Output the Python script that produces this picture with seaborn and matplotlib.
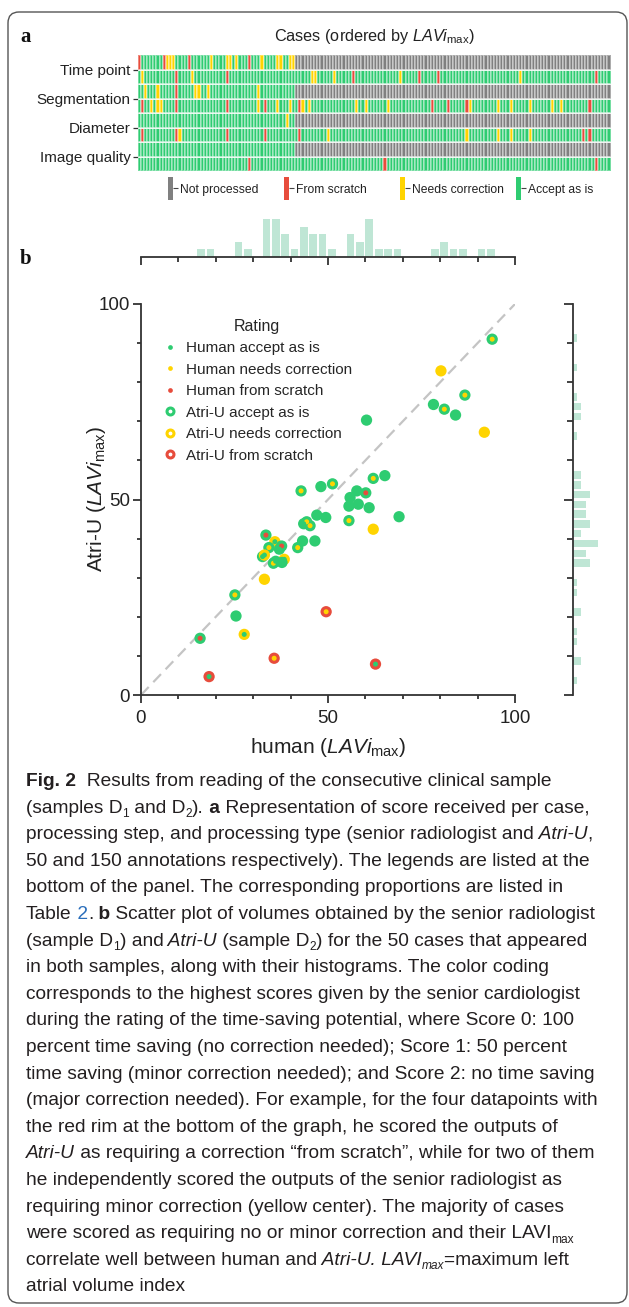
import numpy as np
import matplotlib
matplotlib.use("Agg")
import matplotlib.pyplot as plt
import seaborn as sns
from matplotlib.colors import ListedColormap
from matplotlib.lines import Line2D
from matplotlib.patches import FancyBboxPatch
from matplotlib.ticker import MultipleLocator

# ---- panel a: processing status per case -------------------------------
STEPS = ["Time point", "Segmentation", "Diameter", "Image quality"]
N_CASES = 150
N_HUMAN = 50  # the human reader only annotated the first 50 cases

human_scratch = {"Time point": [0, 8, 16, 35], "Segmentation": [12],
                 "Diameter": [], "Image quality": []}
human_needs = {"Time point": [9, 10, 11, 23, 28, 29, 31, 39, 44, 45, 48, 49],
               "Segmentation": [2, 6, 18, 19, 22, 38],
               "Diameter": [47], "Image quality": []}
atri_scratch = {"Time point": [12, 28, 68, 89, 95, 145],
                "Segmentation": [1, 12, 28, 40, 51, 93, 98, 104, 143],
                "Diameter": [1, 12, 28, 40, 51, 141, 143],
                "Image quality": [35, 78, 145]}
atri_needs = {"Time point": [1, 17, 55, 56, 62, 83, 121],
              "Segmentation": [4, 6, 7, 38, 44, 48, 52, 54, 69, 72, 79, 105,
                               114, 118, 124, 131, 134],
              "Diameter": [13, 60, 104, 114, 118, 124],
              "Image quality": []}

status_labels = ["Not processed", "From scratch", "Needs correction", "Accept as is"]

# ---- panel b: LAVi_max human vs Atri-U ---------------------------------
human_vol = [60.3, 62.1, 42.8, 48.1, 51.2, 57.7, 60.1, 55.9, 58.1, 55.6,
             61.0, 55.6, 62.1, 47.0, 49.4, 44.3, 45.2, 43.2, 46.5, 41.9,
             33.4, 35.8, 37.6, 34.2, 37.0, 32.5, 33.0, 38.3, 35.4, 37.7,
             33.0, 25.1, 25.4, 27.6, 15.8, 18.2, 35.6, 49.5, 62.7, 93.9,
             80.2, 86.6, 78.2, 81.1, 84.1, 91.8, 65.2, 69.0, 43.5, 36.0]
atri_vol = [70.3, 55.4, 52.2, 53.3, 54.0, 52.2, 51.7, 50.5, 48.8, 48.3,
            47.9, 44.6, 42.4, 46.0, 45.4, 44.3, 43.3, 39.4, 39.4, 37.7,
            40.9, 39.2, 38.1, 37.7, 37.3, 35.4, 35.8, 34.7, 33.7, 33.9,
            29.6, 25.6, 20.2, 15.5, 14.5, 4.7, 9.4, 21.3, 7.9, 91.0,
            82.9, 76.7, 74.3, 73.1, 71.6, 67.2, 56.1, 45.6, 43.8, 34.2]
human_rating = ["accept", "needs", "needs", "accept", "needs", "accept", "scratch", "accept", "accept", "accept",
                "accept", "needs", "needs", "accept", "accept", "needs", "needs", "accept", "accept", "needs",
                "scratch", "accept", "scratch", "needs", "accept", "accept", "accept", "accept", "needs", "accept",
                "needs", "needs", "accept", "accept", "scratch", "accept", "needs", "needs", "accept", "needs",
                "needs", "needs", "accept", "needs", "accept", "needs", "accept", "accept", "accept", "accept"]
atri_rating = ["accept", "accept", "accept", "accept", "accept", "accept", "accept", "accept", "accept", "accept",
               "accept", "accept", "needs", "accept", "accept", "accept", "accept", "accept", "accept", "accept",
               "accept", "needs", "accept", "accept", "accept", "accept", "needs", "needs", "accept", "accept",
               "needs", "accept", "accept", "needs", "accept", "scratch", "scratch", "scratch", "scratch", "accept",
               "needs", "accept", "accept", "accept", "accept", "needs", "accept", "accept", "accept", "accept"]
rating_order = ["accept", "needs", "scratch"]
legend_labels = ["Human accept as is", "Human needs correction", "Human from scratch",
                 "Atri-U accept as is", "Atri-U needs correction", "Atri-U from scratch"]

# ---- caption -------------------------------------------------------------
caption = [
    [("Fig. 2", "b"), ("  Results from reading of the consecutive clinical sample", "r")],
    [("(samples D", "r"), ("1", "sub"), (" and D", "r"), ("2", "sub"), (").", "r"), (" a", "b"),
     (" Representation of score received per case,", "r")],
    [("processing step, and processing type (senior radiologist and", "r"), (" Atri-U", "i"), (",", "r")],
    [("50 and 150 annotations respectively). The legends are listed at the", "r")],
    [("bottom of the panel. The corresponding proportions are listed in", "r")],
    [("Table", "r"), (" 2", "link"), (".", "r"), (" b", "b"),
     (" Scatter plot of volumes obtained by the senior radiologist", "r")],
    [("(sample D", "r"), ("1", "sub"), (") and", "r"), (" Atri-U", "i"), (" (sample D", "r"), ("2", "sub"),
     (") for the 50 cases that appeared", "r")],
    [("in both samples, along with their histograms. The color coding", "r")],
    [("corresponds to the highest scores given by the senior cardiologist", "r")],
    [("during the rating of the time-saving potential, where Score 0: 100", "r")],
    [("percent time saving (no correction needed); Score 1: 50 percent", "r")],
    [("time saving (minor correction needed); and Score 2: no time saving", "r")],
    [("(major correction needed). For example, for the four datapoints with", "r")],
    [("the red rim at the bottom of the graph, he scored the outputs of", "r")],
    [("Atri-U", "i"), (" as requiring a correction \u201cfrom scratch\u201d, while for two of them", "r")],
    [("he independently scored the outputs of the senior radiologist as", "r")],
    [("requiring minor correction (yellow center). The majority of cases", "r")],
    [("were scored as requiring no or minor correction and their LAVI", "r"), ("max", "sub")],
    [("correlate well between human and", "r"), (" Atri-U. LAVI", "i"), ("max", "subi"),
     ("=maximum left", "r")],
    [("atrial volume index", "r")],
]

# ---- style -----------------------------------------------------------------
sns.set_style("white")
plt.rcParams["font.family"] = ["Liberation Sans", "DejaVu Sans"]
plt.rcParams["mathtext.fontset"] = "custom"
plt.rcParams["mathtext.rm"] = "Liberation Sans"
plt.rcParams["mathtext.it"] = "Liberation Sans:italic"
plt.rcParams["mathtext.bf"] = "Liberation Sans:bold"

GRAY, RED, YELLOW, GREEN = "#808080", "#e74c3c", "#ffd400", "#2ecc71"
status_colors = [GRAY, RED, YELLOW, GREEN]
rating_colors = {"accept": GREEN, "needs": YELLOW, "scratch": RED}
HIST_COLOR = "#bfe6d5"
INK = "#222222"
LAVI = r"$\mathit{LAVi}_{\mathrm{max}}$"

W, H = 629, 1307
fig = plt.figure(figsize=(W / 100, H / 100), dpi=100)


def px_rect(left, top, right, bottom):
    return [left / W, 1 - bottom / H, (right - left) / W, (bottom - top) / H]


bg = fig.add_axes([0, 0, 1, 1])
bg.set_xlim(0, W)
bg.set_ylim(H, 0)
bg.axis("off")
bg.add_patch(FancyBboxPatch((8, 12), 619, 1291, boxstyle="round,pad=0,rounding_size=11",
                            ec="#555555", fc="none", lw=1.0, clip_on=False))

# ---- panel a ---------------------------------------------------------------
rows = []
for step in STEPS:
    h = np.zeros(N_CASES, dtype=int)
    h[:N_HUMAN] = 3
    h[human_needs[step]] = 2
    h[human_scratch[step]] = 1
    a = np.full(N_CASES, 3)
    a[atri_needs[step]] = 2
    a[atri_scratch[step]] = 1
    rows += [h, a]
status = np.vstack(rows)

ax_a = fig.add_axes(px_rect(137.5, 55, 610.5, 171))
sns.heatmap(status, ax=ax_a, cmap=ListedColormap(status_colors), vmin=-0.5, vmax=3.5,
            cbar=False, linewidths=0.3, linecolor=(1, 1, 1, 0.35),
            xticklabels=False, yticklabels=False)
for yy in range(1, 8):
    ax_a.axhline(yy, color="white", lw=0.6)
ax_a.set_yticks([1, 3, 5, 7])
ax_a.set_yticklabels(STEPS, rotation=0, fontsize=11, color=INK)
ax_a.tick_params(axis="y", left=True, length=3.5, width=0.9, color="#333333", pad=1.5)

bg.text(374, 41.5, "Cases (ordered by " + LAVI + ")", ha="center", va="baseline",
        fontsize=11.7, color=INK)
bg.text(20, 41.5, "a", family=["Liberation Serif", "DejaVu Serif"], weight="bold",
        fontsize=15, va="baseline", color="#111111")

for i, (lab, col) in enumerate(zip(status_labels, status_colors)):
    lx = 168.3 + 116 * i
    cax = fig.add_axes(px_rect(lx, 177, lx + 4.4, 199.7))
    cax.imshow([[0]], cmap=ListedColormap([col]), aspect="auto")
    cax.set_xticks([])
    cax.yaxis.tick_right()
    cax.set_yticks([0])
    cax.set_yticklabels([lab], fontsize=8.7, color=INK)
    cax.tick_params(axis="y", right=True, left=False, length=3.4, width=0.8, pad=2, color="#444444")
    for s in cax.spines.values():
        s.set_visible(False)

# ---- panel b ---------------------------------------------------------------
bg.text(20, 264, "b", family=["Liberation Serif", "DejaVu Serif"], weight="bold",
        fontsize=15, va="baseline", color="#111111")

ax = fig.add_axes(px_rect(141, 304, 515, 695))
ax.plot([0, 100], [0, 100], ls=(0, (5, 3)), color="#c4c4c4", lw=1.6, zorder=1)
sns.scatterplot(x=human_vol, y=atri_vol, hue=atri_rating, hue_order=rating_order,
                palette=rating_colors, s=66, linewidth=0, legend=False, ax=ax, zorder=2)
sns.scatterplot(x=human_vol, y=atri_vol, hue=human_rating, hue_order=rating_order,
                palette=rating_colors, s=13, linewidth=0, legend=False, ax=ax, zorder=3)
ax.set_xlim(0, 100)
ax.set_ylim(0, 100)
for side in ["top", "right"]:
    ax.spines[side].set_visible(False)
for side in ["left", "bottom"]:
    ax.spines[side].set_color("#333333")
    ax.spines[side].set_linewidth(1.3)
ax.set_xticks([0, 50, 100])
ax.set_yticks([0, 50, 100])
ax.xaxis.set_minor_locator(MultipleLocator(10))
ax.yaxis.set_minor_locator(MultipleLocator(10))
ax.tick_params(which="major", bottom=True, left=True, length=6, width=1.3, color="#333333",
               labelsize=13.5, labelcolor=INK, pad=2)
ax.tick_params(axis="x", which="major", pad=5)
ax.tick_params(which="minor", bottom=True, left=True, length=3.2, width=1.3, color="#333333")
ax.set_xlabel("human (" + LAVI + ")", fontsize=15, color=INK, labelpad=6)
ax.set_ylabel("Atri-U (" + LAVI + ")", fontsize=15, color=INK)
ax.yaxis.set_label_coords(-0.087, 0.5)

handles = [Line2D([], [], ls="none", marker="o", ms=3.4, mfc=rating_colors[r], mec=rating_colors[r], mew=0)
           for r in rating_order]
handles += [Line2D([], [], ls="none", marker="o", ms=5.0, mfc="white", mec=rating_colors[r], mew=2.2)
            for r in rating_order]
ax.legend(handles, legend_labels, title="Rating", loc="upper left", bbox_to_anchor=(0.056, 0.962),
          frameon=False, fontsize=11, title_fontsize=11.5, handlelength=1.0, handletextpad=0.6,
          labelspacing=0.49, borderaxespad=0, borderpad=0)

x_bins = np.arange(14.8, 95.0, 2.5)
y_bins = np.arange(2.5, 93.0, 2.5)

ax_t = fig.add_axes(px_rect(141, 205, 515, 257))
sns.histplot(x=human_vol, bins=x_bins, color=HIST_COLOR, alpha=1, shrink=0.82, linewidth=0, ax=ax_t)
ax_t.set_xlim(0, 100)
ax_t.set_ylim(0, 6.93)
ax_t.set_xticks([0, 50, 100])
ax_t.xaxis.set_minor_locator(MultipleLocator(10))
ax_t.set_xticklabels([])
ax_t.set_yticks([])
ax_t.set_xlabel("")
ax_t.set_ylabel("")
for side in ["top", "right", "left"]:
    ax_t.spines[side].set_visible(False)
ax_t.spines["bottom"].set_color("#333333")
ax_t.spines["bottom"].set_linewidth(1.3)
ax_t.tick_params(which="major", bottom=True, length=6, width=1.3, color="#333333")
ax_t.tick_params(which="minor", bottom=True, length=3.6, width=1.3, color="#333333")

ax_r = fig.add_axes(px_rect(573, 304, 614.7, 695))
sns.histplot(y=atri_vol, bins=y_bins, color=HIST_COLOR, alpha=1, shrink=0.76, linewidth=0, ax=ax_r)
ax_r.set_ylim(0, 100)
ax_r.set_xlim(0, 10)
ax_r.set_yticks([0, 50, 100])
ax_r.yaxis.set_minor_locator(MultipleLocator(10))
ax_r.set_yticklabels([])
ax_r.set_xticks([])
ax_r.set_xlabel("")
ax_r.set_ylabel("")
for side in ["top", "right", "bottom"]:
    ax_r.spines[side].set_visible(False)
ax_r.spines["left"].set_color("#333333")
ax_r.spines["left"].set_linewidth(1.3)
ax_r.tick_params(which="major", left=True, length=6.5, width=1.3, color="#333333")
ax_r.tick_params(which="minor", left=True, length=4, width=1.3, color="#333333")

# ---- caption text ------------------------------------------------------------
CAP_FONT = ["Liberation Sans", "DejaVu Sans"]
CAP_SIZE = 13.8
cap_styles = {
    "r": dict(fontsize=CAP_SIZE),
    "b": dict(fontsize=CAP_SIZE, weight="bold"),
    "i": dict(fontsize=CAP_SIZE, style="italic"),
    "link": dict(fontsize=CAP_SIZE, color="#2a6ebb"),
    "sub": dict(fontsize=CAP_SIZE * 0.62, dy=4.5),
    "subi": dict(fontsize=CAP_SIZE * 0.62, style="italic", dy=4.5),
}
renderer = fig.canvas.get_renderer()
inv = bg.transData.inverted()
for k, parts in enumerate(caption):
    y = 786 + 26.6 * k
    x = 26
    for text, kind in parts:
        kw = dict(cap_styles[kind])
        dy = kw.pop("dy", 0)
        kw.setdefault("color", "#231f20")
        t = bg.text(x, y + dy, text, ha="left", va="baseline", family=CAP_FONT, **kw)
        bb = t.get_window_extent(renderer)
        x = inv.transform((bb.x1, bb.y0))[0]

fig.savefig("out.png", dpi=100)
